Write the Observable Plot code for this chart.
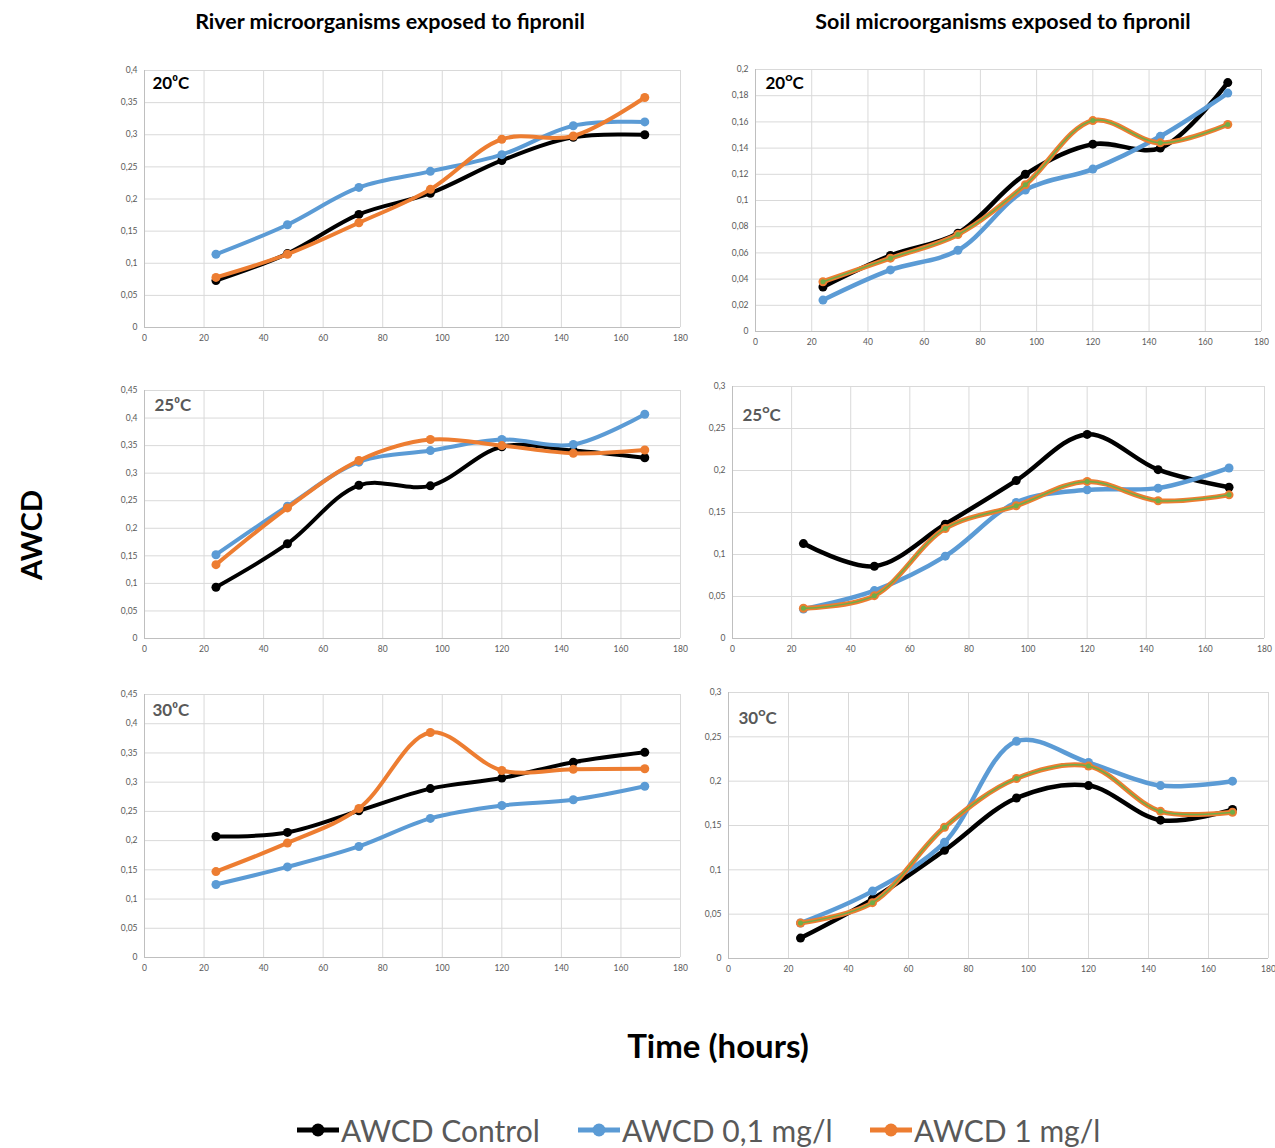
<!DOCTYPE html>
<html><head><meta charset="utf-8">
<script src="https://cdn.jsdelivr.net/npm/d3@7"></script>
<script src="https://cdn.jsdelivr.net/npm/@observablehq/plot@0.6"></script>
<style>
body{margin:0;background:#fff;}
#root{position:relative;width:1275px;height:1148px;overflow:hidden;font-family:Lato,"Open Sans",sans-serif;background:#fff;}
.abs{position:absolute;white-space:nowrap;}
.title{font-weight:bold;font-size:21.5px;color:#000;transform:translate(-50%,-50%);}
.ylab{font-weight:bold;font-size:29px;color:#000;transform:translate(-50%,-50%) rotate(-90deg);}
.xlab{font-weight:bold;font-size:33px;color:#000;transform:translate(-50%,-50%);}
.leg{display:flex;align-items:center;font-size:30px;color:#595959;transform:translateY(-50%);}
.leg svg{margin-right:2px;}
</style></head>
<body><div id="root"></div>
<script>
// ---- data ----
const hours = [24, 48, 72, 96, 120, 144, 168];
const xTicks = [0, 20, 40, 60, 80, 100, 120, 140, 160, 180];
const ticksTo040 = [0, 0.05, 0.1, 0.15, 0.2, 0.25, 0.3, 0.35, 0.4];
const ticksTo045 = [0, 0.05, 0.1, 0.15, 0.2, 0.25, 0.3, 0.35, 0.4, 0.45];
const ticksTo020 = [0, 0.02, 0.04, 0.06, 0.08, 0.1, 0.12, 0.14, 0.16, 0.18, 0.2];
const ticksTo030 = [0, 0.05, 0.1, 0.15, 0.2, 0.25, 0.3];

const seriesNames = ["AWCD Control", "AWCD 0,1 mg/l", "AWCD 1 mg/l"];
const columnTitles = ["River microorganisms exposed to fipronil", "Soil microorganisms exposed to fipronil"];

const river20Control = [0.073, 0.115, 0.176, 0.209, 0.260, 0.296, 0.300];
const river20Low     = [0.114, 0.160, 0.218, 0.243, 0.269, 0.314, 0.320];
const river20High    = [0.078, 0.114, 0.163, 0.215, 0.293, 0.298, 0.358];

const soil20Control  = [0.034, 0.058, 0.075, 0.120, 0.143, 0.140, 0.190];
const soil20Low      = [0.024, 0.047, 0.062, 0.108, 0.124, 0.149, 0.182];
const soil20High     = [0.038, 0.056, 0.074, 0.112, 0.161, 0.144, 0.158];

const river25Control = [0.093, 0.172, 0.278, 0.277, 0.348, 0.341, 0.328];
const river25Low     = [0.152, 0.240, 0.320, 0.341, 0.361, 0.352, 0.407];
const river25High    = [0.134, 0.237, 0.323, 0.361, 0.350, 0.336, 0.342];

const soil25Control  = [0.113, 0.086, 0.136, 0.188, 0.243, 0.201, 0.180];
const soil25Low      = [0.035, 0.057, 0.098, 0.162, 0.177, 0.179, 0.203];
const soil25High     = [0.036, 0.051, 0.131, 0.158, 0.187, 0.164, 0.171];

const river30Control = [0.207, 0.214, 0.251, 0.289, 0.307, 0.334, 0.351];
const river30Low     = [0.125, 0.155, 0.190, 0.238, 0.260, 0.270, 0.293];
const river30High    = [0.147, 0.196, 0.255, 0.385, 0.320, 0.322, 0.323];

const soil30Control  = [0.023, 0.067, 0.122, 0.181, 0.195, 0.156, 0.168];
const soil30Low      = [0.040, 0.076, 0.131, 0.245, 0.221, 0.195, 0.200];
const soil30High     = [0.040, 0.063, 0.148, 0.203, 0.217, 0.166, 0.165];

// ---- styling / layout ----
const colors = ["#000000", "#5b9bd5", "#ed7d31"];
const green = "#70ad47";
const FONT = "Lato, 'Open Sans', sans-serif";
const fmt = d => d === 0 ? "0" : String(+d.toFixed(3)).replace(".", ",");

const panels = [
  {x0:144, x1:680, top:70, bottom:327, ymax:0.4, yTicks:ticksTo040, series:[river20Control, river20Low, river20High], label:"20\u2070C", labelColor:"#000", dx:8, dy:13, soil:false},
  {x0:755, x1:1261, top:69, bottom:331, ymax:0.2, yTicks:ticksTo020, series:[soil20Control, soil20Low, soil20High], label:"20\u1D3CC", labelColor:"#000", dx:10, dy:14, soil:true},
  {x0:144, x1:680, top:390, bottom:638, ymax:0.45, yTicks:ticksTo045, series:[river25Control, river25Low, river25High], label:"25\u2070C", labelColor:"#595959", dx:10, dy:15, soil:false},
  {x0:732, x1:1264, top:386, bottom:638, ymax:0.3, yTicks:ticksTo030, series:[soil25Control, soil25Low, soil25High], label:"25\u1D3CC", labelColor:"#595959", dx:10, dy:29, soil:true},
  {x0:144, x1:680, top:694, bottom:957, ymax:0.45, yTicks:ticksTo045, series:[river30Control, river30Low, river30High], label:"30\u2070C", labelColor:"#595959", dx:8, dy:16, soil:false},
  {x0:728, x1:1268, top:692, bottom:958, ymax:0.3, yTicks:ticksTo030, series:[soil30Control, soil30Low, soil30High], label:"30\u1D3CC", labelColor:"#595959", dx:10, dy:26, soil:true}
];

const root = document.getElementById("root");

function addDiv(cls, text, left, top) {
  const d = document.createElement("div");
  d.className = "abs " + cls;
  d.textContent = text;
  d.style.left = left + "px";
  d.style.top = top + "px";
  root.appendChild(d);
  return d;
}

addDiv("title", columnTitles[0], 390, 21);
addDiv("title", columnTitles[1], 1003, 21);
addDiv("ylab", "AWCD", 30, 535);
addDiv("xlab", "Time (hours)", 718, 1045);

panels.forEach(p => {
  const rows = [];
  p.series.forEach((vals, si) => vals.forEach((v, i) => rows.push({hour: hours[i], value: v, s: si})));
  const ML = 40, MR = 8, MT = 10, MB = 25;
  const marks = [
    Plot.gridX(xTicks, {stroke: "#d9d9d9", strokeOpacity: 1, strokeWidth: 1}),
    Plot.gridY(p.yTicks, {stroke: "#d9d9d9", strokeOpacity: 1, strokeWidth: 1}),
    Plot.ruleX([0], {stroke: "#bfbfbf"}),
    Plot.ruleY([0], {stroke: "#bfbfbf"}),
    Plot.axisX(xTicks, {tickSize: 0, tickPadding: 7, tickFormat: d => String(d), label: null, fill: "#595959", fontSize: 8.5}),
    Plot.axisY(p.yTicks, {tickSize: 0, tickPadding: 7, tickFormat: fmt, label: null, fill: "#595959", fontSize: 8.5})
  ];
  [0, 1, 2].forEach(si => {
    const d = rows.filter(r => r.s === si);
    const sw = p.soil ? (si === 2 ? 5 : 4.5) : 4;
    marks.push(Plot.line(d, {x: "hour", y: "value", stroke: colors[si], strokeWidth: sw, curve: "catmull-rom"}));
    marks.push(Plot.dot(d, {x: "hour", y: "value", r: 4.5, fill: colors[si], stroke: "none"}));
    if (p.soil && si === 2) {
      marks.push(Plot.line(d, {x: "hour", y: "value", stroke: green, strokeWidth: 1.5, curve: "catmull-rom"}));
      marks.push(Plot.dot(d, {x: "hour", y: "value", r: 2.5, fill: green, stroke: "none"}));
    }
  });
  marks.push(Plot.text([p.label], {frameAnchor: "top-left", dx: p.dx, dy: p.dy, text: d => d, textAnchor: "start", lineAnchor: "middle", fontSize: 17, fontWeight: "bold", fill: p.labelColor}));

  const svg = Plot.plot({
    width: p.x1 - p.x0 + ML + MR,
    height: p.bottom - p.top + MT + MB,
    marginLeft: ML, marginRight: MR, marginTop: MT, marginBottom: MB,
    x: {domain: [0, 180]},
    y: {domain: [0, p.ymax]},
    style: {fontFamily: FONT, background: "transparent", overflow: "visible"},
    marks
  });
  svg.style.position = "absolute";
  svg.style.left = (p.x0 - ML) + "px";
  svg.style.top = (p.top - MT) + "px";
  root.appendChild(svg);
});

// legend
const legendX = [297, 578, 870];
seriesNames.forEach((name, i) => {
  const item = document.createElement("div");
  item.className = "abs leg";
  item.style.left = legendX[i] + "px";
  item.style.top = "1130px";
  const ns = "http://www.w3.org/2000/svg";
  const s = document.createElementNS(ns, "svg");
  s.setAttribute("width", 42); s.setAttribute("height", 20);
  const ln = document.createElementNS(ns, "line");
  ln.setAttribute("x1", 0); ln.setAttribute("x2", 42); ln.setAttribute("y1", 10); ln.setAttribute("y2", 10);
  ln.setAttribute("stroke", colors[i]); ln.setAttribute("stroke-width", 5);
  const c = document.createElementNS(ns, "circle");
  c.setAttribute("cx", 21); c.setAttribute("cy", 10); c.setAttribute("r", 6.5); c.setAttribute("fill", colors[i]);
  s.appendChild(ln); s.appendChild(c);
  item.appendChild(s);
  const t = document.createElement("span");
  t.textContent = name;
  item.appendChild(t);
  root.appendChild(item);
});
</script>
</body></html>
